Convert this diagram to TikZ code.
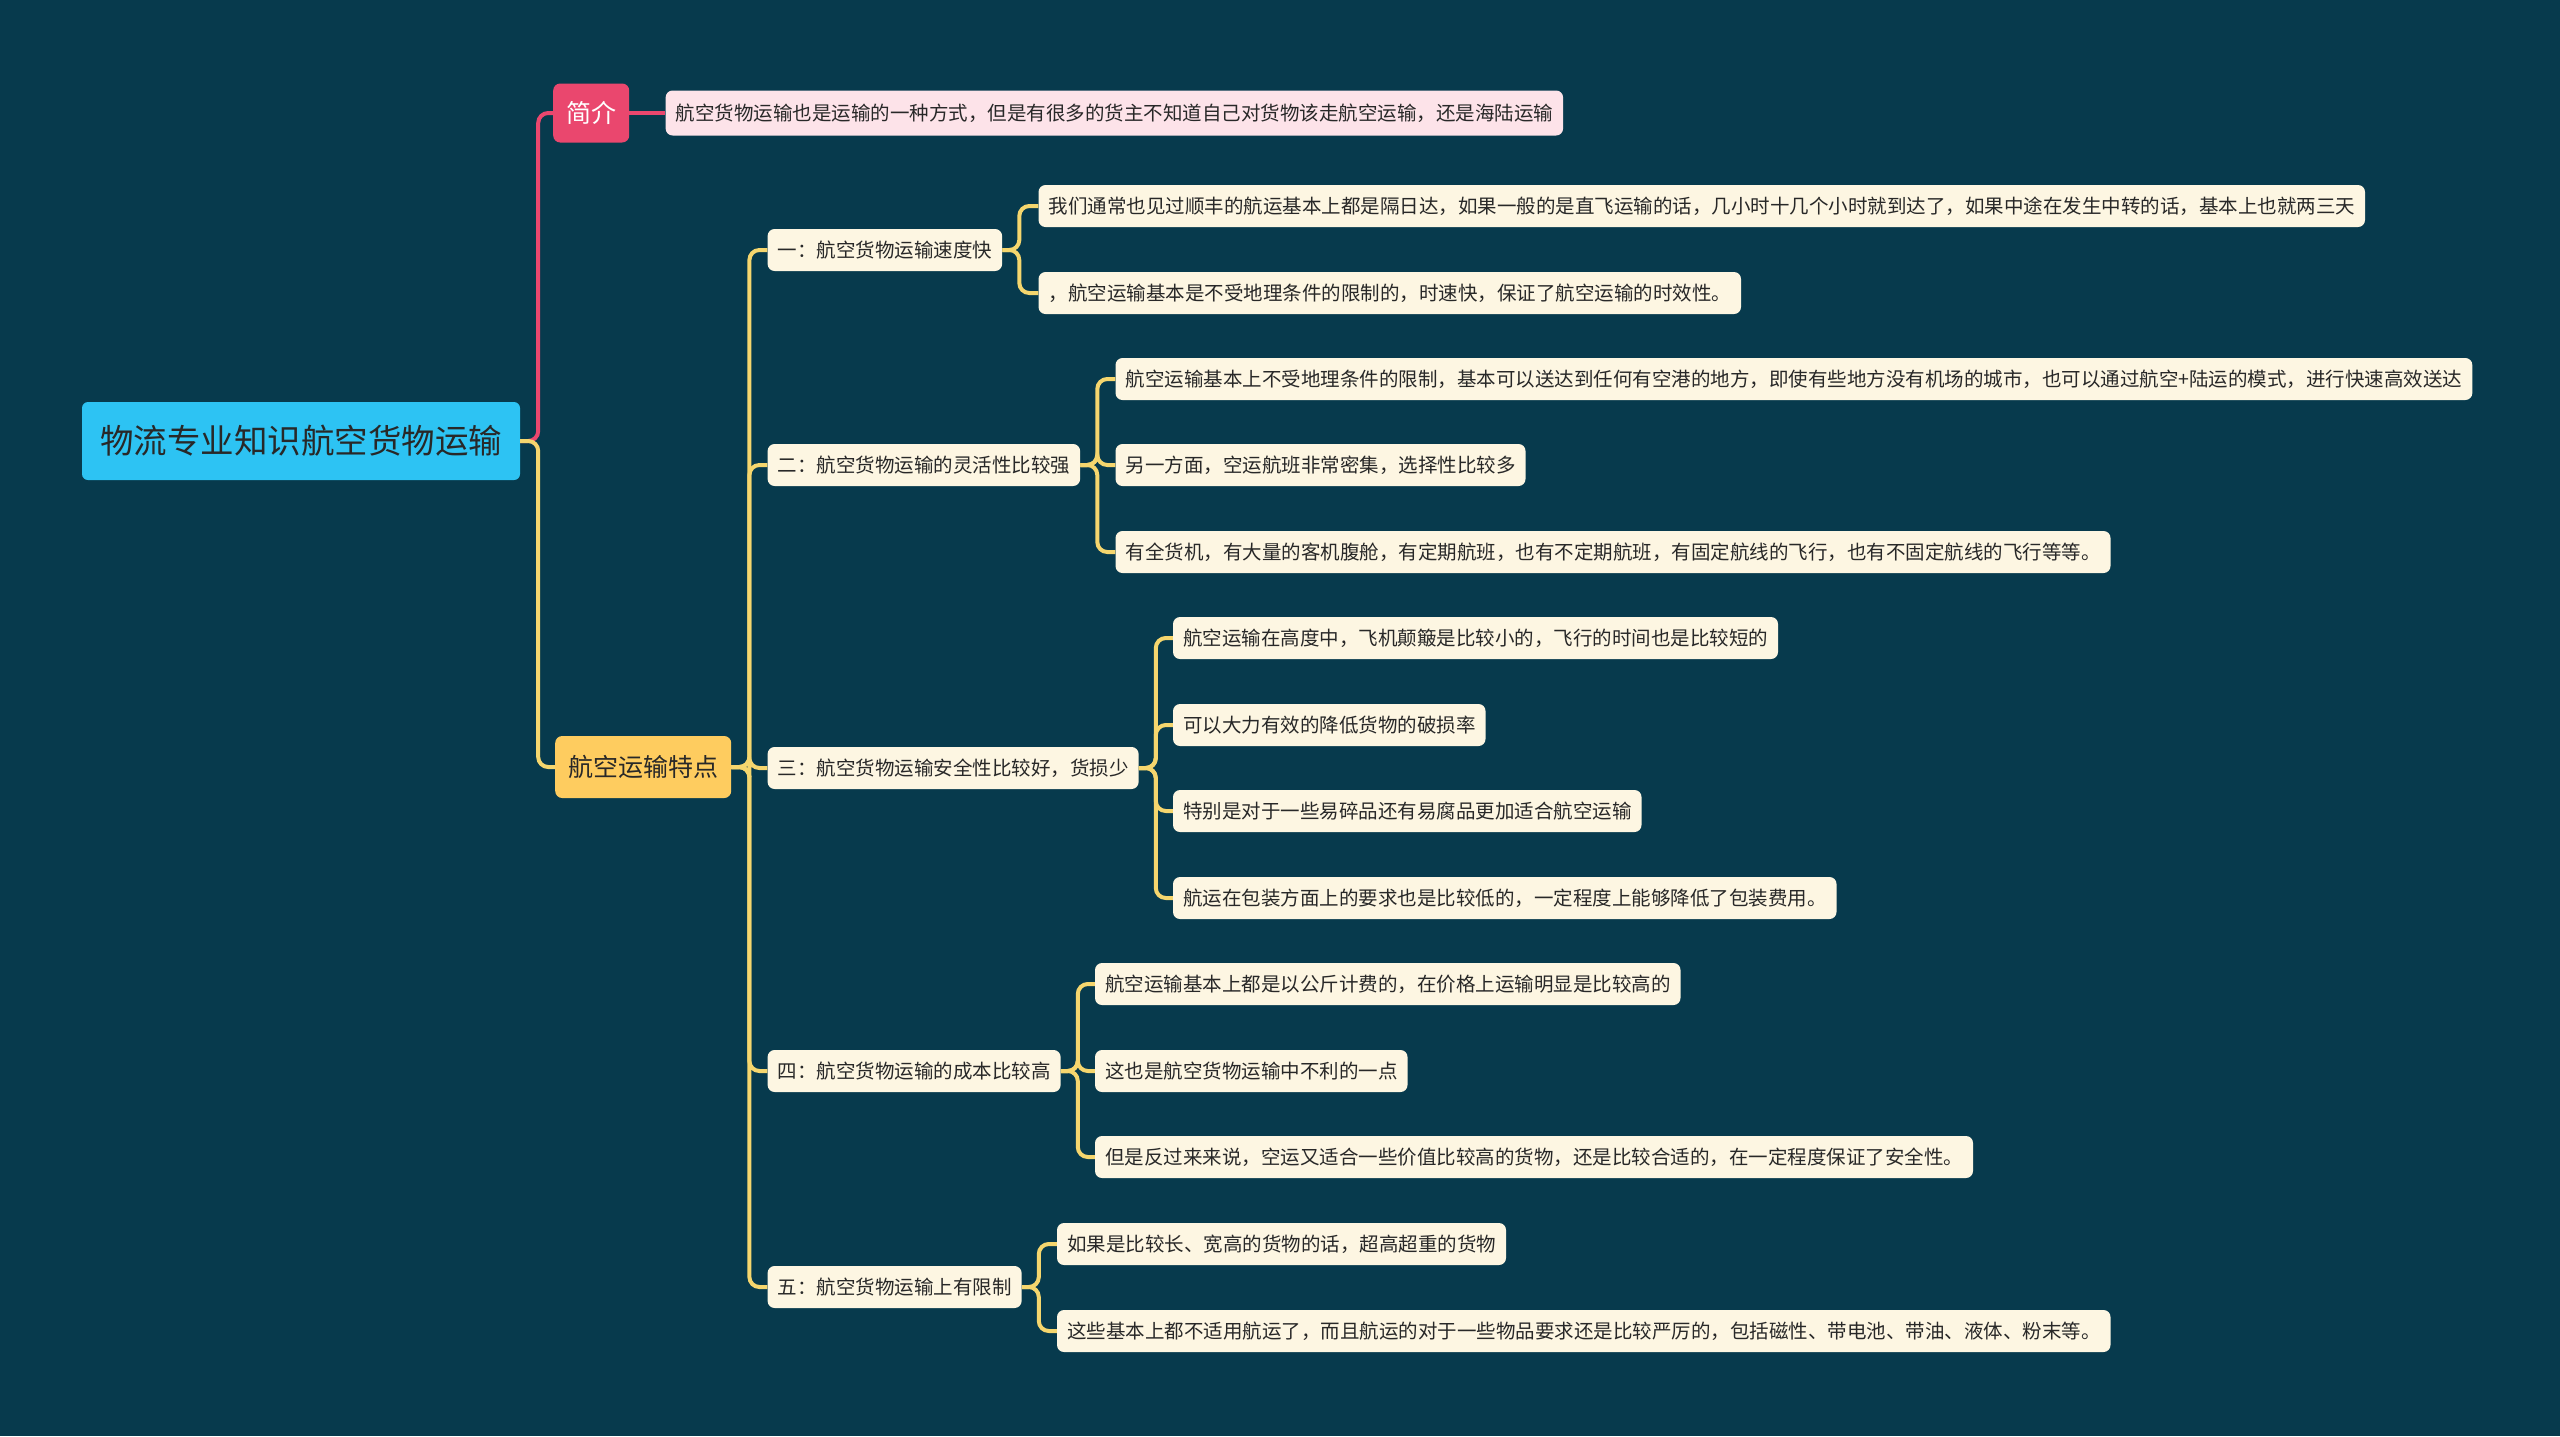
\documentclass[tikz,border=0pt]{standalone}
\usepackage{fontspec}
\setmainfont{Noto Sans CJK SC}
\usetikzlibrary{positioning,calc}
\usepackage{xcolor}
\definecolor{bgteal}{RGB}{7,58,77}
\definecolor{rootblue}{RGB}{45,195,243}
\definecolor{intropink}{RGB}{234,71,110}
\definecolor{introleaf}{RGB}{253,227,233}
\definecolor{featgold}{RGB}{254,204,95}
\definecolor{leafcream}{RGB}{253,246,226}
\definecolor{linkyellow}{RGB}{245,214,110}
\definecolor{inkdark}{RGB}{40,40,40}

\tikzset{
    rootbox/.style={rounded corners=6pt, fill=rootblue, text=inkdark, font=\fontsize{33.5}{33.5}\selectfont, minimum height=78pt, inner xsep=18pt, inner ysep=0pt},
    mainbox/.style={rounded corners=7pt, font=\fontsize{25}{25}\selectfont, inner xsep=13pt, inner ysep=0pt, anchor=west},
    subbox/.style={rounded corners=7pt, fill=leafcream, text=inkdark, font=\fontsize{19.5}{19.5}\selectfont, minimum height=42pt, inner xsep=10pt, inner ysep=0pt, anchor=west},
    link/.style={draw=linkyellow, line width=4pt, rounded corners=10pt},
    pinklink/.style={link, draw=intropink},
}

\begin{document}
\begin{tikzpicture}[x=1pt, y=-1pt]
    \useasboundingbox (0,0) rectangle (2560,1436);
    \fill[bgteal] (0,0) rectangle (2560,1436);

    % root and first level
    \node[rootbox] (root) at (301,441) {物流专业知识航空货物运输};
    \node[mainbox, fill=intropink, text=white, minimum height=59pt] (intro) at (553,113) {简介};
    \node[subbox, fill=introleaf, minimum height=45pt] (introtxt) at ($(intro.east)+(36,0)$) {航空货物运输也是运输的一种方式，但是有很多的货主不知道自己对货物该走航空运输，还是海陆运输};
    \node[mainbox, fill=featgold, text=inkdark, minimum height=62pt] (feat) at (555,767) {航空运输特点};

    % second level
    \node[subbox] (s1) at ($(feat.east)+(36,-517)$) {一：航空货物运输速度快};
    \node[subbox] (s2) at ($(feat.east)+(36,-302)$) {二：航空货物运输的灵活性比较强};
    \node[subbox] (s3) at ($(feat.east)+(36,1)$) {三：航空货物运输安全性比较好，货损少};
    \node[subbox] (s4) at ($(feat.east)+(36,304)$) {四：航空货物运输的成本比较高};
    \node[subbox] (s5) at ($(feat.east)+(36,520)$) {五：航空货物运输上有限制};

    % leaves
    \node[subbox] (s1a) at ($(s1.east)+(36,-44)$) {我们通常也见过顺丰的航运基本上都是隔日达，如果一般的是直飞运输的话，几小时十几个小时就到达了，如果中途在发生中转的话，基本上也就两三天};
    \node[subbox] (s1b) at ($(s1.east)+(36,43)$) {，航空运输基本是不受地理条件的限制的，时速快，保证了航空运输的时效性。};

    \node[subbox] (s2a) at ($(s2.east)+(35,-86)$) {航空运输基本上不受地理条件的限制，基本可以送达到任何有空港的地方，即使有些地方没有机场的城市，也可以通过航空+陆运的模式，进行快速高效送达};
    \node[subbox] (s2b) at ($(s2.east)+(35,0)$) {另一方面，空运航班非常密集，选择性比较多};
    \node[subbox] (s2c) at ($(s2.east)+(35,87)$) {有全货机，有大量的客机腹舱，有定期航班，也有不定期航班，有固定航线的飞行，也有不固定航线的飞行等等。};

    \node[subbox] (s3a) at ($(s3.east)+(34,-130)$) {航空运输在高度中，飞机颠簸是比较小的，飞行的时间也是比较短的};
    \node[subbox] (s3b) at ($(s3.east)+(34,-43)$) {可以大力有效的降低货物的破损率};
    \node[subbox] (s3c) at ($(s3.east)+(34,43)$) {特别是对于一些易碎品还有易腐品更加适合航空运输};
    \node[subbox] (s3d) at ($(s3.east)+(34,130)$) {航运在包装方面上的要求也是比较低的，一定程度上能够降低了包装费用。};

    \node[subbox] (s4a) at ($(s4.east)+(34,-87)$) {航空运输基本上都是以公斤计费的，在价格上运输明显是比较高的};
    \node[subbox] (s4b) at ($(s4.east)+(34,0)$) {这也是航空货物运输中不利的一点};
    \node[subbox] (s4c) at ($(s4.east)+(34,86)$) {但是反过来来说，空运又适合一些价值比较高的货物，还是比较合适的，在一定程度保证了安全性。};

    \node[subbox] (s5a) at ($(s5.east)+(35,-43)$) {如果是比较长、宽高的货物的话，超高超重的货物};
    \node[subbox] (s5b) at ($(s5.east)+(35,44)$) {这些基本上都不适用航运了，而且航运的对于一些物品要求还是比较严厉的，包括磁性、带电池、带油、液体、粉末等。};

    % connectors
    \draw[pinklink] (root.east) -- ++(18,0) |- (intro.west);
    \draw[pinklink] (intro.east) -- (introtxt.west);
    \draw[link] (root.east) -- ++(18,0) |- (feat.west);
    \draw[link] (feat.east) -- ++(18,0) |- (s1.west);
    \draw[link] (feat.east) -- ++(18,0) |- (s2.west);
    \draw[link] (feat.east) -- ++(18,0) |- (s3.west);
    \draw[link] (feat.east) -- ++(18,0) |- (s4.west);
    \draw[link] (feat.east) -- ++(18,0) |- (s5.west);
    \draw[link] (s1.east) -- ++(17,0) |- (s1a.west);
    \draw[link] (s1.east) -- ++(17,0) |- (s1b.west);
    \draw[link] (s2.east) -- ++(17,0) |- (s2a.west);
    \draw[link] (s2.east) -- ++(17,0) |- (s2b.west);
    \draw[link] (s2.east) -- ++(17,0) |- (s2c.west);
    \draw[link] (s3.east) -- ++(17,0) |- (s3a.west);
    \draw[link] (s3.east) -- ++(17,0) |- (s3b.west);
    \draw[link] (s3.east) -- ++(17,0) |- (s3c.west);
    \draw[link] (s3.east) -- ++(17,0) |- (s3d.west);
    \draw[link] (s4.east) -- ++(17,0) |- (s4a.west);
    \draw[link] (s4.east) -- ++(17,0) |- (s4b.west);
    \draw[link] (s4.east) -- ++(17,0) |- (s4c.west);
    \draw[link] (s5.east) -- ++(17,0) |- (s5a.west);
    \draw[link] (s5.east) -- ++(17,0) |- (s5b.west);
\end{tikzpicture}
\end{document}
